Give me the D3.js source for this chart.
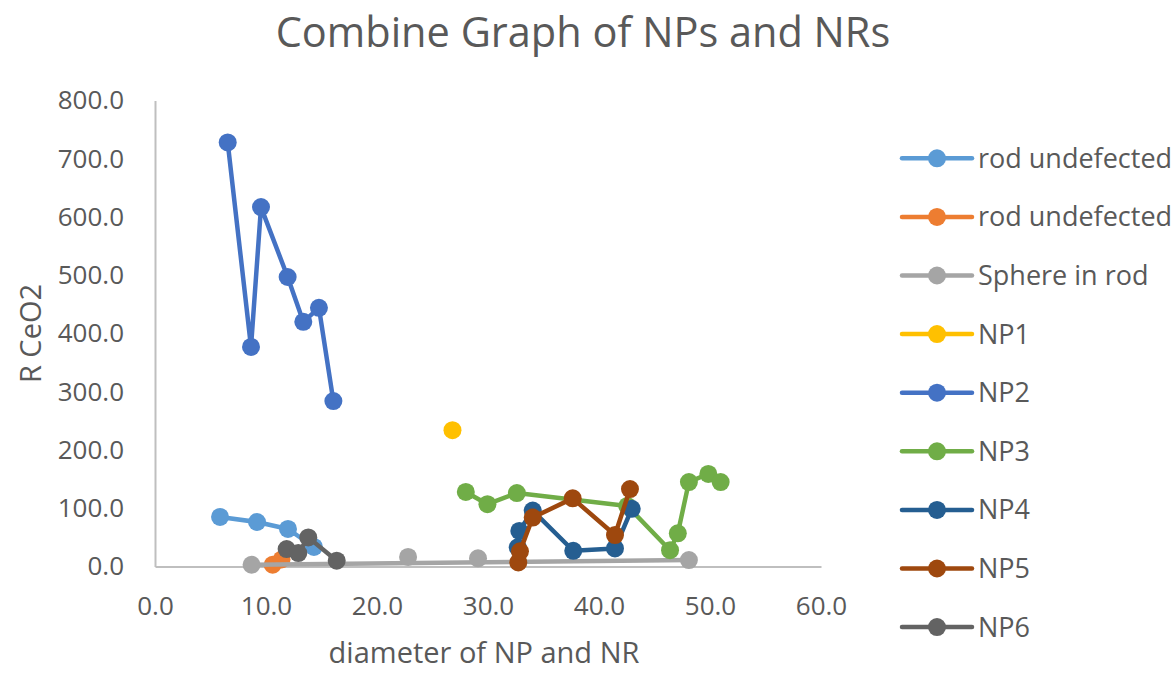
<!DOCTYPE html>
<html>
<head>
<meta charset="utf-8">
<script src="https://cdn.jsdelivr.net/npm/d3@7"></script>
<style>
  html, body { margin: 0; padding: 0; background: #ffffff; }
  svg { display: block; font-family: "Open Sans", "Noto Sans", sans-serif; }
</style>
</head>
<body>
<svg id="chart" width="1176" height="673"></svg>
<script>
// ---- data ----
const titleText = "Combine Graph of NPs and NRs";
const xTitle = "diameter of NP and NR";
const yTitle = "R CeO2";
const xTicks = [0, 10, 20, 30, 40, 50, 60];
const yTicks = [0, 100, 200, 300, 400, 500, 600, 700, 800];

const seriesNames = ["rod undefected", "rod undefected", "Sphere in rod", "NP1", "NP2", "NP3", "NP4", "NP5", "NP6"];
const seriesColors = ["#5B9BD5", "#ED7D31", "#A5A5A5", "#FFC000", "#4472C4", "#70AD47", "#255E91", "#9E480E", "#636363"];

const rodUndefA_D = [5.86, 9.19, 11.98, 14.32];
const rodUndefA_R = [85, 76.4, 64.4, 33.5];
const rodUndefB_D = [10.6, 11.4];
const rodUndefB_R = [3, 12];
// null = empty cell (gap in the line)
const sphere_D = [22.8, null, 29.1, null, 8.7, 48.1];
const sphere_R = [16.5, null, 14, null, 3, 11];
const np1_D = [26.8];
const np1_R = [234];
const np2_D = [6.55, 8.65, 9.55, 11.95, 13.36, 14.77, 16.07];
const np2_R = [728, 377, 617, 497, 420, 444, 284];
const np3_D = [28.0, 29.95, 32.6, 42.55, 46.4, 47.1, 48.1, 49.85, 50.96];
const np3_R = [128, 107, 126, 104, 28, 57, 145, 159, 145];
const np4_D = [32.68, 32.82, 34.03, 37.68, 41.44, 42.95];
const np4_R = [33, 61, 96, 27, 31, 99];
const np5_D = [32.73, 32.88, 34.03, 37.63, 41.44, 42.79];
const np5_R = [7, 26, 84, 117, 54, 133];
const np6_D = [11.86, 12.91, 13.81, 16.37];
const np6_R = [30, 23, 50, 10];

const seriesD = [rodUndefA_D, rodUndefB_D, sphere_D, np1_D, np2_D, np3_D, np4_D, np5_D, np6_D];
const seriesR = [rodUndefA_R, rodUndefB_R, sphere_R, np1_R, np2_R, np3_R, np4_R, np5_R, np6_R];

// ---- layout ----
const svg = d3.select("#chart");
const textColor = "#595959";
const axisColor = "#BFBFBF";

const x = d3.scaleLinear().domain([0, 60]).range([155, 821]);
const y = d3.scaleLinear().domain([0, 800]).range([566.5, 100.5]);

// title
svg.append("text")
  .attr("x", 583).attr("y", 47)
  .attr("text-anchor", "middle")
  .attr("font-size", 41.5)
  .attr("fill", textColor)
  .text(titleText);

// axes
const xAxis = d3.axisBottom(x).tickValues(xTicks).tickSize(0).tickPadding(30).tickFormat(d3.format(".1f"));
const yAxis = d3.axisLeft(y).tickValues(yTicks).tickSize(0).tickPadding(31).tickFormat(d3.format(".1f"));

const gx = svg.append("g").attr("transform", `translate(0,${y(0)})`).call(xAxis);
const gy = svg.append("g").attr("transform", `translate(${x(0)},0)`).call(yAxis);
[gx, gy].forEach(g => {
  g.select(".domain").attr("stroke", axisColor).attr("stroke-width", 2);
  g.selectAll("text").attr("fill", textColor).attr("font-size", 26).attr("font-family", "Open Sans");
});

// axis titles
svg.append("text")
  .attr("x", (x(0) + x(60)) / 2 - 4).attr("y", 663)
  .attr("text-anchor", "middle")
  .attr("font-size", 29)
  .attr("fill", textColor)
  .text(xTitle);

svg.append("text")
  .attr("transform", `translate(41,${(y(0) + y(800)) / 2}) rotate(-90)`)
  .attr("text-anchor", "middle")
  .attr("font-size", 29)
  .attr("fill", textColor)
  .text(yTitle);

// series
const line = d3.line()
  .defined(d => d[0] != null && d[1] != null)
  .x(d => x(d[0])).y(d => y(d[1]));

seriesNames.forEach((name, i) => {
  const pts = seriesD[i].map((d, j) => [d, seriesR[i][j]]);
  const g = svg.append("g");
  g.append("path")
    .attr("d", line(pts))
    .attr("fill", "none")
    .attr("stroke", seriesColors[i])
    .attr("stroke-width", 4.5)
    .attr("stroke-linejoin", "round")
    .attr("stroke-linecap", "round");
  g.selectAll("circle")
    .data(pts.filter(p => p[0] != null && p[1] != null))
    .join("circle")
    .attr("cx", d => x(d[0]))
    .attr("cy", d => y(d[1]))
    .attr("r", 9)
    .attr("fill", seriesColors[i]);
});

// legend
const legendY = d3.scaleLinear().domain([0, 1]).range([158.3, 216.9]);
const lg = svg.append("g");
seriesNames.forEach((name, i) => {
  const yy = legendY(i);
  lg.append("line")
    .attr("x1", 902).attr("x2", 972).attr("y1", yy).attr("y2", yy)
    .attr("stroke", seriesColors[i]).attr("stroke-width", 4.5).attr("stroke-linecap", "round");
  lg.append("circle").attr("cx", 937).attr("cy", yy).attr("r", 9).attr("fill", seriesColors[i]);
  lg.append("text")
    .attr("x", 978).attr("y", yy).attr("dy", "0.35em")
    .attr("font-size", 27).attr("fill", textColor)
    .text(name);
});
</script>
</body>
</html>
